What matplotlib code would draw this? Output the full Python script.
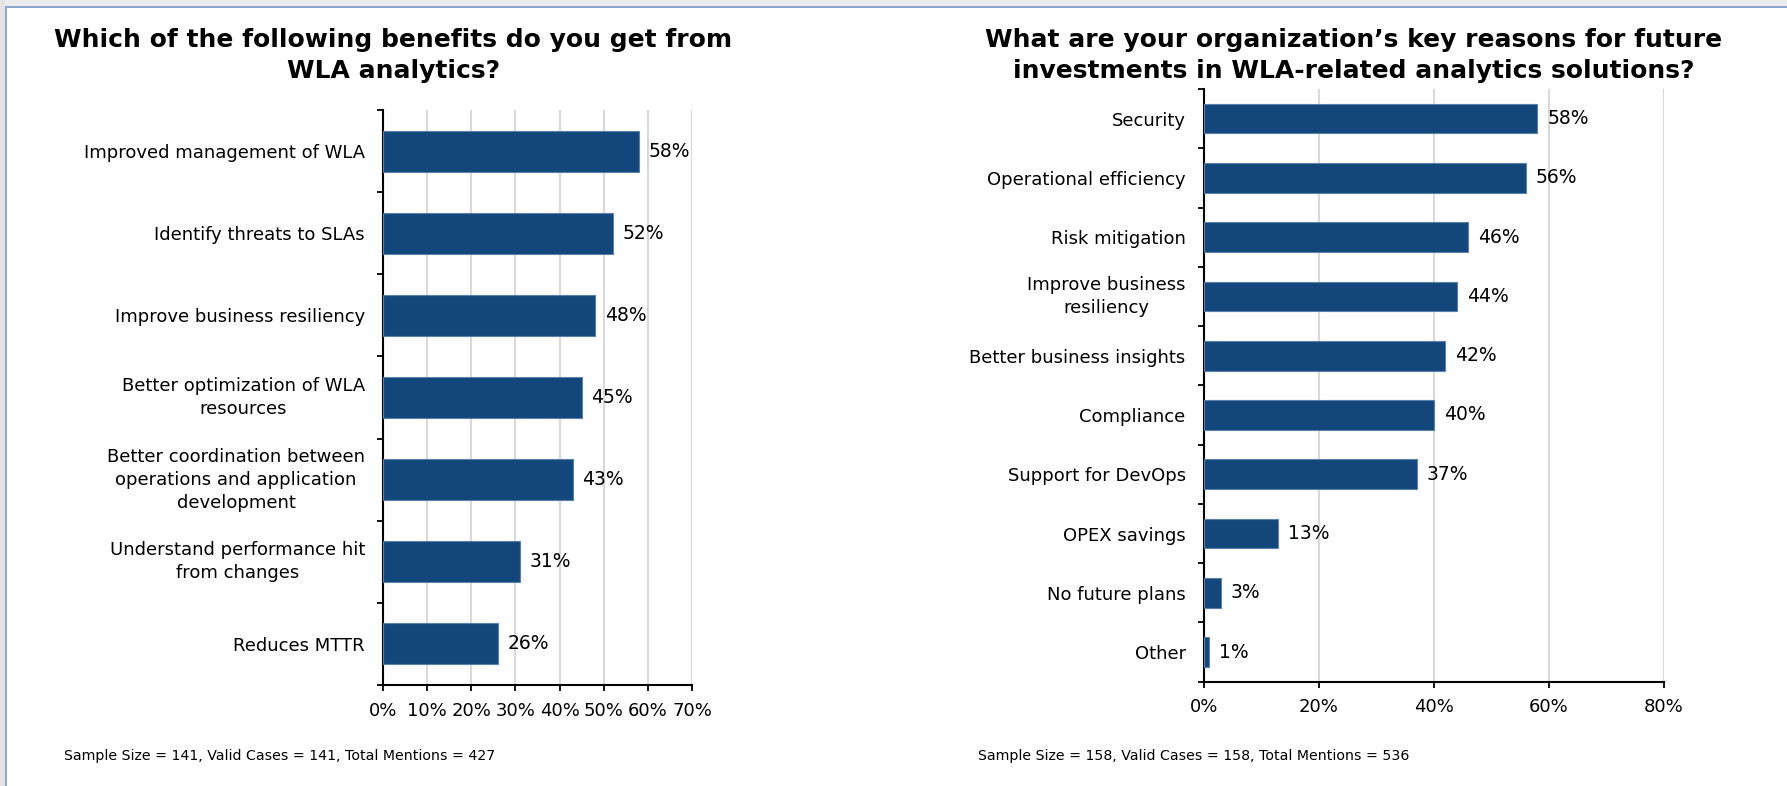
import matplotlib.pyplot as plt
from matplotlib.lines import Line2D
from matplotlib.patches import Rectangle
from matplotlib.ticker import FixedLocator, FuncFormatter

# benefits of WLA analytics (percent of respondents)
benefit_labels = ["Improved management of WLA",
                  "Identify threats to SLAs",
                  "Improve business resiliency",
                  "Better optimization of WLA\nresources",
                  "Better coordination between\noperations and application\ndevelopment",
                  "Understand performance hit\nfrom changes",
                  "Reduces MTTR"]
benefit_values = [58, 52, 48, 45, 43, 31, 26]
benefit_ticks = [0, 10, 20, 30, 40, 50, 60, 70]

# reasons for future investments (percent of respondents)
reason_labels = ["Security",
                 "Operational efficiency",
                 "Risk mitigation",
                 "Improve business\nresiliency",
                 "Better business insights",
                 "Compliance",
                 "Support for DevOps",
                 "OPEX savings",
                 "No future plans",
                 "Other"]
reason_values = [58, 56, 46, 44, 42, 40, 37, 13, 3, 1]
reason_ticks = [0, 20, 40, 60, 80]

titles = ["Which of the following benefits do you get from\nWLA analytics?",
          "What are your organization\u2019s key reasons for future\ninvestments in WLA-related analytics solutions?"]
notes = ["Sample Size = 141, Valid Cases = 141, Total Mentions = 427",
         "Sample Size = 158, Valid Cases = 158, Total Mentions = 536"]

BAR = '#13467a'
EDGE = '#5b80ab'
GRID = '#d9d9d9'

plt.rcParams['font.family'] = 'DejaVu Sans'

fig = plt.figure(figsize=(17.87, 7.86), dpi=100)
fig.patch.set_facecolor('white')

# window frame around the page
W, H = 1787, 786
fig.patches.append(Rectangle((0, 1 - 6 / H), 1, 6 / H, transform=fig.transFigure,
                             facecolor='#ececec', edgecolor='none'))
fig.patches.append(Rectangle((0, 0), 5 / W, 1, transform=fig.transFigure,
                             facecolor='#e4e4e4', edgecolor='none'))
fig.lines.append(Line2D([5.5 / W, 1], [1 - 6.5 / H, 1 - 6.5 / H], transform=fig.transFigure,
                        color='#8ea6cf', lw=1.4))
fig.lines.append(Line2D([5.5 / W, 5.5 / W], [0, 1 - 6.5 / H], transform=fig.transFigure,
                        color='#8ea6cf', lw=1.4))


def draw_bars(ax, labels, values, ticks):
    pos = list(range(len(labels)))
    ax.barh(pos, values, height=0.5, color=BAR, edgecolor=EDGE, linewidth=0.8, zorder=3)
    ax.set_ylim(len(labels) - 0.5, -0.5)
    ax.set_xlim(ticks[0], ticks[-1])
    ax.set_yticks(pos)
    ax.set_yticklabels(labels, multialignment='center', linespacing=1.35)
    # wrapped labels sit centred on the bar
    for t in ax.get_yticklabels():
        if '\n' in t.get_text():
            t.set_va('center')
    ax.yaxis.set_minor_locator(FixedLocator([p - 0.5 for p in pos] + [pos[-1] + 0.5]))
    ax.tick_params(axis='y', which='major', length=0, pad=13, labelsize=13)
    ax.tick_params(axis='y', which='minor', length=4, width=1.3, color='black')
    ax.set_xticks(ticks)
    ax.xaxis.set_major_formatter(FuncFormatter(lambda v, p: '%d%%' % v))
    ax.tick_params(axis='x', length=4, width=1.3, pad=8, labelsize=13)
    for s in ['top', 'right']:
        ax.spines[s].set_visible(False)
    ax.spines['left'].set_linewidth(1.5)
    ax.spines['bottom'].set_linewidth(1.5)
    ax.grid(axis='x', color=GRID, linewidth=1.5, zorder=0)
    ax.set_axisbelow(True)
    for p, v in zip(pos, values):
        ax.annotate('%d%%' % v, (v, p), xytext=(7, 0), textcoords='offset points',
                    va='center', ha='left', fontsize=13.5)


ax1 = fig.add_axes([383 / W, 1 - 685 / H, (692 - 383) / W, (685 - 110) / H])
draw_bars(ax1, benefit_labels, benefit_values, benefit_ticks)

ax2 = fig.add_axes([1203.7 / W, 1 - 681.7 / H, (1664 - 1203.7) / W, (681.7 - 89) / H])
draw_bars(ax2, reason_labels, reason_values, reason_ticks)

fig.text(393.5 / W, 1 - 28.5 / H, titles[0], ha='center', va='top', fontsize=18,
         fontweight='bold', linespacing=1.35)
fig.text(1354 / W, 1 - 28.5 / H, titles[1], ha='center', va='top', fontsize=18,
         fontweight='bold', linespacing=1.35)

fig.text(64 / W, 1 - 756 / H, notes[0], ha='left', va='center', fontsize=10.2)
fig.text(977.5 / W, 1 - 756 / H, notes[1], ha='left', va='center', fontsize=10.2)

fig.savefig('out.png', dpi=100)
